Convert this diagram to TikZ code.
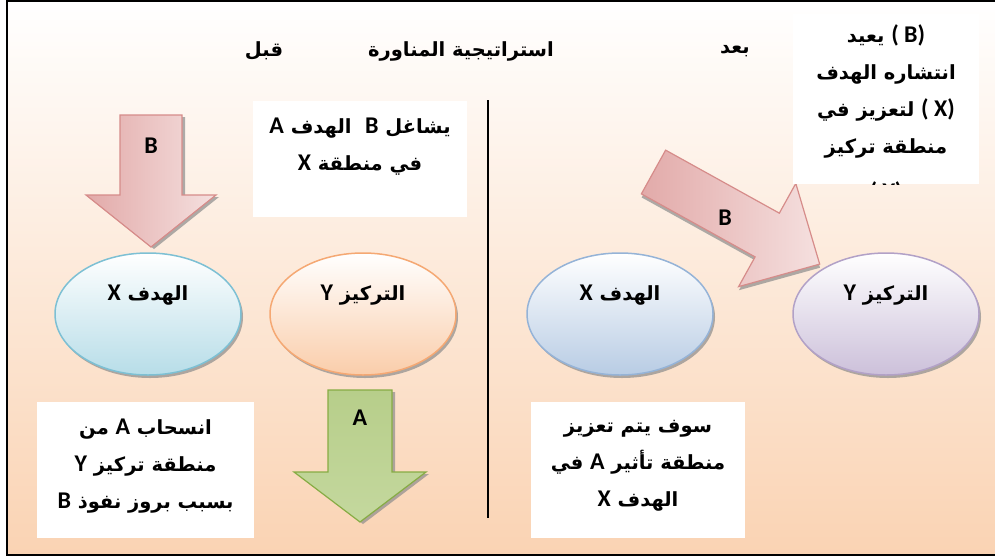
\documentclass[tikz,border=0pt]{standalone}
\usepackage{fontspec}
\usetikzlibrary{shapes.geometric,shadows}
\TeXXeTstate=1
\newfontfamily\arabicfont[Script=Arabic]{DejaVu Sans}
\newfontfamily\latfont{Carlito}
\newcommand{\Lt}[1]{{\latfont\bfseries\fontsize{24}{24}\selectfont #1}}
\definecolor{bgmid}{RGB}{252,236,224}
\definecolor{bgbot}{RGB}{250,211,179}
\definecolor{pinkD}{RGB}{226,170,169}
\definecolor{pinkL}{RGB}{245,224,223}
\definecolor{pinkB}{RGB}{214,140,138}
\definecolor{blueA}{RGB}{183,221,232}
\definecolor{blueAB}{RGB}{125,192,212}
\definecolor{orgA}{RGB}{250,205,170}
\definecolor{orgAB}{RGB}{245,168,115}
\definecolor{blueB}{RGB}{184,204,228}
\definecolor{blueBB}{RGB}{149,179,215}
\definecolor{purA}{RGB}{204,192,218}
\definecolor{purAB}{RGB}{178,161,199}
\definecolor{greenL}{RGB}{183,206,138}
\definecolor{greenD}{RGB}{140,178,70}
\definecolor{greenT}{RGB}{196,216,158}
\definecolor{greenB}{RGB}{135,172,68}
\definecolor{shadowc}{RGB}{140,140,140}
\tikzset{
  arab/.style={font=\arabicfont\bfseries\fontsize{19.5}{37}\selectfont, align=center, text=black, inner sep=0pt},
  lat/.style={font=\latfont\bfseries\fontsize{24}{24}\selectfont, text=black, inner sep=0pt},
  whitebox/.style={fill=white, draw=none, inner sep=0pt},
  oval/.style={ellipse, minimum width=186pt, minimum height=122pt, line width=1.5pt, inner sep=0pt,
    drop shadow={shadow xshift=2pt, shadow yshift=-3pt, fill=shadowc, opacity=0.7}},
  pinkarrow/.style={left color=pinkD, right color=pinkL, draw=pinkB, line width=1.2pt},
}
\begin{document}
\begin{tikzpicture}[x=1pt,y=-1pt]
\useasboundingbox (0,0) rectangle (995,558);
\fill[white] (0,0) rectangle (995,558);
\shade[top color=white, middle color=bgmid, bottom color=bgbot] (7,1) rectangle (995,555);
\draw[line width=2pt] (995,1) -- (7,1) -- (7,555) -- (995,555);

% title
\node[arab] (tq) at (264,51) {\beginR قبل\endR};
\node[arab] (tm) at (461,51) {\beginR استراتيجية المناورة\endR};
\node[arab] (tb) at (735,51) {\beginR بعد\endR};

% divider
\coordinate (d1) at (488,100);
\coordinate (d2) at (488,518);
\draw[line width=1.3pt] (d1) -- (d2);

% top-left box
\node[whitebox, minimum width=214pt, minimum height=116pt] (bx1) at (360,159) {};
\node[arab] (t1) at (360,147) {\beginR يشاغل \Lt{B}\ \ الهدف \Lt{A}\endR\\ \beginR في منطقة \Lt{X}\endR};

% B arrow (left, downward)
\fill[shadowc, opacity=0.7] (123,117) -- (185,117) -- (185,197) -- (219,197) -- (154,249) -- (89,197) -- (123,197) -- cycle;
\shadedraw[pinkarrow] (120,115) -- (182,115) -- (182,195) -- (216,195) -- (151,247) -- (86,195) -- (120,195) -- cycle;
\node[lat] (lB1) at (151,146) {B};

% ellipses
\node[oval, top color=white, bottom color=blueA, draw=blueAB] (eX1) at (148,314) {};
\node[oval, top color=white, bottom color=orgA, draw=orgAB] (eY1) at (363,314) {};
\node[oval, top color=white, bottom color=blueB, draw=blueBB] (eX2) at (620,314) {};
\node[oval, top color=white, bottom color=purA, draw=purAB] (eY2) at (886,314) {};
\node[arab] (lX1) at (148,295) {\beginR الهدف \Lt{X}\endR};
\node[arab] (lY1) at (363,295) {\beginR التركيز \Lt{Y}\endR};
\node[arab] (lX2) at (620,295) {\beginR الهدف \Lt{X}\endR};
\node[arab] (lY2) at (886,295) {\beginR التركيز \Lt{Y}\endR};

% green arrow A
\fill[shadowc, opacity=0.7] (331,392) -- (395,392) -- (395,474) -- (429,474) -- (363,524) -- (297,474) -- (331,474) -- cycle;
\shadedraw[top color=greenL, middle color=greenD, bottom color=greenT, draw=greenB, line width=1.2pt]
  (328,390) -- (392,390) -- (392,472) -- (426,472) -- (360,522) -- (294,472) -- (328,472) -- cycle;
\node[lat] (lA) at (360,418) {A};

% bottom-left box
\node[whitebox, minimum width=217pt, minimum height=136pt] (bx2) at (145.5,470) {};
\node[arab] (t2) at (145.5,466) {\beginR انسحاب \Lt{A} من\endR\\ \beginR منطقة تركيز \Lt{Y}\endR\\ \beginR بسبب بروز نفوذ \Lt{B}\endR};

% bottom-right box
\node[whitebox, minimum width=214pt, minimum height=136pt] (bx3) at (638,470) {};
\node[arab] (t3) at (638,466) {\beginR سوف يتم تعزيز\endR\\ \beginR منطقة تأثير \Lt{A} في\endR\\ \beginR الهدف \Lt{X}\endR};

% diagonal B arrow
\begin{scope}[shift={(653.5,172)}, rotate=-29]
\fill[shadowc, opacity=0.7] (2,-22) -- (132,-22) -- (132,-56) -- (192,3) -- (132,62) -- (132,28) -- (2,28) -- cycle;
\shadedraw[pinkarrow] (0,-25) -- (130,-25) -- (130,-59) -- (190,0) -- (130,59) -- (130,25) -- (0,25) -- cycle;
\end{scope}
\node[lat] (lB2) at (725,218) {B};

% top-right box
\node[whitebox, minimum width=186pt, minimum height=170pt] (bx4) at (886,99) {};
\begin{scope}
\clip (793,14) rectangle (979,184);
\node[arab, anchor=north] (t4) at (886,24) {\beginR\beginL\Lt{( B)}\endL{} يعيد\endR\\ \beginR انتشاره الهدف\endR\\ \beginR\beginL\Lt{( X)}\endL{} لتعزيز في\endR\\ \beginR منطقة تركيز\endR\\[9pt] \beginR\beginL\Lt{( Y)}\endL\endR};
\end{scope}
\end{tikzpicture}
\end{document}
